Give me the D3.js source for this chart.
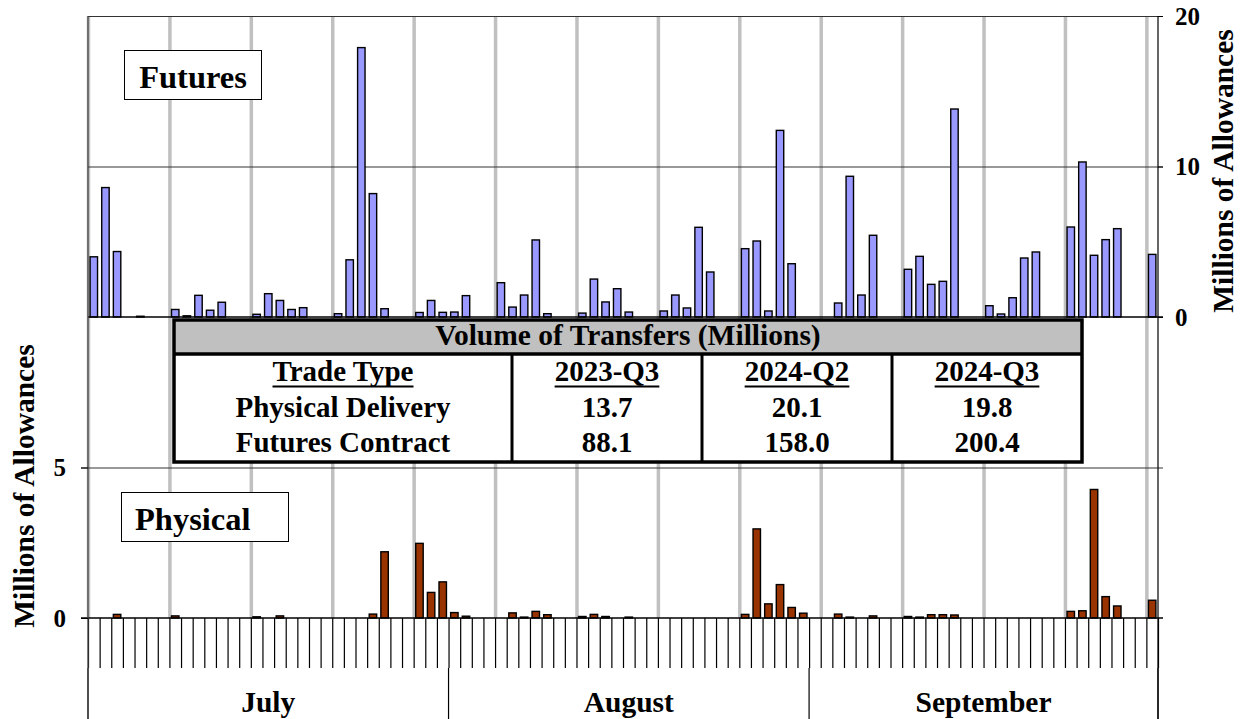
<!DOCTYPE html>
<html>
<head>
<meta charset="utf-8">
<script src="https://cdn.jsdelivr.net/npm/d3@7"></script>
<style>
    body { margin: 0; background: #fff; }
    svg text { font-family: 'Liberation Serif', 'Times New Roman', serif; font-weight: bold; fill: #000; }
</style>
</head>
<body>
<svg id="chart" width="1244" height="719"></svg>
<script>
// months shown on the x axis and their number of days
let months = ['July', 'August', 'September'];
let monthDays = [31, 31, 30];

// daily futures volume, millions of allowances (July 1 - Sept 30, 2024)
let futuresValues = [
    4.0, 8.6, 4.35, 0, 0.05, 0, 0,
    0.5, 0.08, 1.44, 0.45, 0.98, 0, 0,
    0.18, 1.55, 1.1, 0.5, 0.62, 0, 0,
    0.22, 3.8, 17.9, 8.2, 0.55, 0, 0,
    0.3, 1.1, 0.31, 0.33, 1.42, 0, 0,
    2.28, 0.66, 1.46, 5.12, 0.22, 0, 0,
    0.26, 2.52, 1.0, 1.88, 0.33, 0, 0,
    0.4, 1.46, 0.6, 5.96, 2.99, 0, 0,
    4.54, 5.05, 0.4, 12.4, 3.54, 0, 0,
    0, 0.93, 9.35, 1.46, 5.43, 0, 0,
    3.17, 4.03, 2.17, 2.37, 13.82, 0, 0,
    0.75, 0.2, 1.28, 3.92, 4.32, 0, 0,
    5.98, 10.3, 4.1, 5.14, 5.87, 0, 0,
    4.16
];

// daily physical delivery volume, millions of allowances
let physicalValues = [
    0, 0, 0.12, 0, 0, 0, 0,
    0.07, 0, 0, 0, 0, 0, 0,
    0.04, 0, 0.07, 0, 0, 0, 0,
    0, 0, 0, 0.13, 2.2, 0, 0,
    2.48, 0.85, 1.2, 0.18, 0.06, 0, 0,
    0, 0.17, 0.03, 0.22, 0.11, 0, 0,
    0.05, 0.12, 0.05, 0, 0.03, 0, 0,
    0, 0, 0, 0, 0, 0, 0,
    0.12, 2.96, 0.47, 1.11, 0.35, 0.16, 0,
    0, 0.13, 0.03, 0, 0.07, 0, 0,
    0.05, 0.03, 0.11, 0.11, 0.1, 0, 0,
    0, 0, 0, 0, 0, 0, 0,
    0.22, 0.24, 4.27, 0.71, 0.4, 0, 0,
    0.59
];

// summary table
let tableTitle = 'Volume of Transfers (Millions)';
let tableHeaders = ['Trade Type', '2023-Q3', '2024-Q2', '2024-Q3'];
let tableRows = [
    ['Physical Delivery', '13.7', '20.1', '19.8'],
    ['Futures Contract', '88.1', '158.0', '200.4']
];

let futuresTicks = [0, 10, 20];
let physicalTicks = [0, 5];

// build the list of days
let days = [];
months.forEach(function (m, mi) {
    for (let d = 1; d <= monthDays[mi]; d++) {
        days.push(new Date(2024, 6 + mi, d));
    }
});

let svg = d3.select('#chart');

let left = 88, right = 1158;
let pad = 0.36;

let x = d3.scaleBand()
    .domain(d3.range(days.length))
    .range([left, right])
    .paddingInner(pad)
    .paddingOuter(pad / 2);

// category boundaries
let xb = d3.scaleLinear().domain([0, days.length]).range([left, right]);

let yF = d3.scaleLinear().domain([0, 20]).range([317, 16]);
let yP = d3.scaleLinear().domain([0, 10]).range([618, 317]);

// weekly gray separators (before each Monday)
let weekStarts = [];
days.forEach(function (d, i) { if (d.getDay() == 1) weekStarts.push(i); });

svg.append('g').selectAll('line')
    .data(weekStarts)
    .enter().append('line')
    .attr('x1', d => xb(d) + 0.5).attr('x2', d => xb(d) + 0.5)
    .attr('y1', yF(20)).attr('y2', yP(0))
    .attr('stroke', '#c0c0c0').attr('stroke-width', 3.5);

// horizontal gridlines
svg.append('line').attr('x1', left).attr('x2', right + 5)
    .attr('y1', yF(20) + 0.5).attr('y2', yF(20) + 0.5).attr('stroke', '#333').attr('stroke-width', 1);
svg.append('line').attr('x1', left).attr('x2', right + 5)
    .attr('y1', yF(10) + 0.5).attr('y2', yF(10) + 0.5).attr('stroke', '#333').attr('stroke-width', 1);
svg.append('line').attr('x1', left - 7).attr('x2', right + 5)
    .attr('y1', yP(5) + 0.5).attr('y2', yP(5) + 0.5).attr('stroke', '#333').attr('stroke-width', 1);

// futures bars
svg.append('g').selectAll('rect')
    .data(futuresValues.map((v, i) => ({ i: i, v: v })).filter(d => d.v > 0))
    .enter().append('rect')
    .attr('x', d => x(d.i))
    .attr('width', x.bandwidth())
    .attr('y', d => yF(d.v))
    .attr('height', d => yF(0) - yF(d.v))
    .attr('fill', '#9999ff')
    .attr('stroke', '#000')
    .attr('stroke-width', 1.4);

// physical bars
svg.append('g').selectAll('rect')
    .data(physicalValues.map((v, i) => ({ i: i, v: v })).filter(d => d.v > 0))
    .enter().append('rect')
    .attr('x', d => x(d.i))
    .attr('width', x.bandwidth())
    .attr('y', d => yP(d.v))
    .attr('height', d => yP(0) - yP(d.v))
    .attr('fill', '#993300')
    .attr('stroke', '#000')
    .attr('stroke-width', 1.4);

// zero lines
svg.append('line').attr('x1', left).attr('x2', right + 5)
    .attr('y1', yF(0)).attr('y2', yF(0)).attr('stroke', '#000').attr('stroke-width', 1.3);
svg.append('line').attr('x1', left - 7).attr('x2', right + 5)
    .attr('y1', yP(0)).attr('y2', yP(0)).attr('stroke', '#000').attr('stroke-width', 1.3);

// x axis: a tick at every day boundary
let xAxis = svg.append('g')
    .attr('transform', 'translate(0,' + yP(0) + ')')
    .call(d3.axisBottom(xb).tickValues(d3.range(days.length + 1)).tickSize(50).tickFormat(''));
xAxis.select('.domain').remove();
xAxis.selectAll('line').attr('stroke', '#000').attr('stroke-width', 1.2);

// month separators and labels
let monthEdges = [0];
monthDays.forEach(function (n, i) { monthEdges.push(monthEdges[i] + n); });

svg.append('g').selectAll('line')
    .data(monthEdges)
    .enter().append('line')
    .attr('x1', d => xb(d)).attr('x2', d => xb(d))
    .attr('y1', yP(0) + 50).attr('y2', 719)
    .attr('stroke', '#000').attr('stroke-width', 1.2);

svg.append('g').selectAll('text')
    .data(months)
    .enter().append('text')
    .attr('x', (d, i) => (xb(monthEdges[i]) + xb(monthEdges[i + 1])) / 2)
    .attr('y', 712)
    .attr('text-anchor', 'middle')
    .style('font-size', '29.5px')
    .text(d => d);

// frame lines
svg.append('line').attr('x1', left).attr('x2', left).attr('y1', yF(20)).attr('y2', 719)
    .attr('stroke', '#444').attr('stroke-width', 1.3);
svg.append('line').attr('x1', right).attr('x2', right).attr('y1', yF(20)).attr('y2', 719)
    .attr('stroke', '#000').attr('stroke-width', 1.2);

// right axis (futures)
let axR = svg.append('g')
    .attr('transform', 'translate(' + right + ',0)')
    .call(d3.axisRight(yF).tickValues(futuresTicks).tickSize(5).tickPadding(12));
axR.select('.domain').remove();
axR.selectAll('line').attr('stroke', '#000');
axR.selectAll('text').style('font-size', '25px').attr('fill', '#000');

// left axis (physical)
let axL = svg.append('g')
    .attr('transform', 'translate(' + left + ',0)')
    .call(d3.axisLeft(yP).tickValues(physicalTicks).tickSize(7).tickPadding(15));
axL.select('.domain').remove();
axL.selectAll('line').attr('stroke', '#000');
axL.selectAll('text').style('font-size', '25px').attr('fill', '#000');

// axis titles
svg.append('text')
    .attr('transform', 'translate(34,486) rotate(-90)')
    .attr('text-anchor', 'middle')
    .style('font-size', '29.5px')
    .text('Millions of Allowances');
svg.append('text')
    .attr('transform', 'translate(1233,171) rotate(-90)')
    .attr('text-anchor', 'middle')
    .style('font-size', '29.5px')
    .text('Millions of Allowances');

// panel labels
svg.append('rect').attr('x', 124.5).attr('y', 50.5).attr('width', 137).attr('height', 49)
    .attr('fill', '#fff').attr('stroke', '#000');
svg.append('text').attr('x', 193).attr('y', 88).attr('text-anchor', 'middle')
    .style('font-size', '32.5px').text('Futures');

svg.append('rect').attr('x', 121.5).attr('y', 492.5).attr('width', 167).attr('height', 49)
    .attr('fill', '#fff').attr('stroke', '#000');
svg.append('text').attr('x', 135).attr('y', 530)
    .style('font-size', '32.5px').text('Physical');

// summary table
let tx0 = 174, tx1 = 1082, ty0 = 320, ty1 = 462, thead = 354;
let colEdges = [tx0, 512, 702, 892, tx1];

let table = svg.append('g');
table.append('rect').attr('x', tx0).attr('y', ty0).attr('width', tx1 - tx0).attr('height', ty1 - ty0)
    .attr('fill', '#fff');
table.append('rect').attr('x', tx0).attr('y', ty0).attr('width', tx1 - tx0).attr('height', thead - ty0)
    .attr('fill', '#c0c0c0');
table.append('rect').attr('x', tx0).attr('y', ty0).attr('width', tx1 - tx0).attr('height', ty1 - ty0)
    .attr('fill', 'none').attr('stroke', '#000').attr('stroke-width', 3.5);
table.append('line').attr('x1', tx0).attr('x2', tx1).attr('y1', thead).attr('y2', thead)
    .attr('stroke', '#000').attr('stroke-width', 3.5);
table.selectAll('.colsep')
    .data(colEdges.slice(1, 4))
    .enter().append('line')
    .attr('x1', d => d).attr('x2', d => d).attr('y1', thead).attr('y2', ty1)
    .attr('stroke', '#000').attr('stroke-width', 3);

table.append('text').attr('x', (tx0 + tx1) / 2).attr('y', 345).attr('text-anchor', 'middle')
    .style('font-size', '29.5px').text(tableTitle);

let colCenter = i => (colEdges[i] + colEdges[i + 1]) / 2;

tableHeaders.forEach(function (h, i) {
    let t = table.append('text').attr('x', colCenter(i)).attr('y', 381).attr('text-anchor', 'middle')
        .style('font-size', '29px').text(h);
    let w = t.node().getComputedTextLength();
    table.append('line')
        .attr('x1', colCenter(i) - w / 2).attr('x2', colCenter(i) + w / 2)
        .attr('y1', 386.5).attr('y2', 386.5)
        .attr('stroke', '#000').attr('stroke-width', 2);
});

tableRows.forEach(function (row, r) {
    row.forEach(function (c, i) {
        table.append('text').attr('x', colCenter(i)).attr('y', 417 + r * 34.5).attr('text-anchor', 'middle')
            .style('font-size', '29px').text(c);
    });
});
</script>
</body>
</html>
